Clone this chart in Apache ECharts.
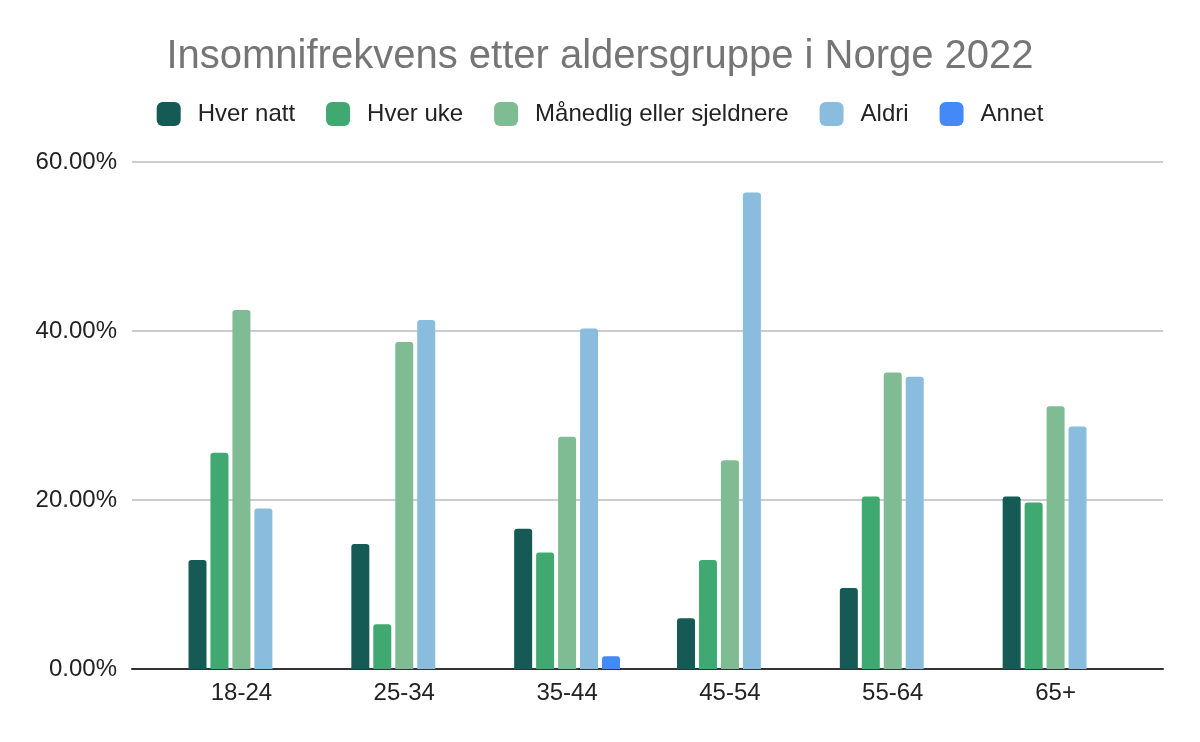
<!DOCTYPE html>
<html>
<head>
<meta charset="utf-8">
<script src="https://cdn.jsdelivr.net/npm/echarts@6/dist/echarts.min.js"></script>
<style>
html,body{margin:0;padding:0;background:#fff;}
#chart{width:1200px;height:742px;}
</style>
</head>
<body>
<div id="chart"></div>
<script>
const title = 'Insomnifrekvens etter aldersgruppe i Norge 2022';
const categories = ['18-24', '25-34', '35-44', '45-54', '55-64', '65+'];
const seriesNames = ['Hver natt', 'Hver uke', 'Månedlig eller sjeldnere', 'Aldri', 'Annet'];
const hverNatt = [12.9, 14.8, 16.6, 6.0, 9.6, 20.4];
const hverUke = [25.6, 5.3, 13.8, 12.9, 20.4, 19.7];
const maanedlig = [42.5, 38.7, 27.5, 24.7, 35.1, 31.1];
const aldri = [19.0, 41.3, 40.3, 56.4, 34.6, 28.7];
const annet = [null, null, 1.5, null, null, null];
const yTicks = [0, 20, 40, 60];
const colors = ['#155A54', '#3FA971', '#7FBC94', '#8ABCDD', '#4389F7'];

const seriesData = [hverNatt, hverUke, maanedlig, aldri, annet];
const font = '"Liberation Sans", Arial, sans-serif';

const chart = echarts.init(document.getElementById('chart'), null, {renderer: 'canvas'});
chart.setOption({
  backgroundColor: '#ffffff',
  animation: false,
  color: colors,
  title: {
    text: title,
    left: 'center',
    top: 32,
    textStyle: {fontFamily: font, fontSize: 40, fontWeight: 'normal', color: '#757575'}
  },
  legend: {
    data: seriesNames,
    top: 97,
    left: 'center',
    itemWidth: 24,
    itemHeight: 24,
    itemGap: 31,
    icon: 'roundRect',
    textStyle: {fontFamily: font, fontSize: 24, color: '#222', padding: [0, 0, 0, 12]}
  },
  grid: [
    {left: 132, right: 37, top: 162, bottom: 73},
    {left: 160, right: 63, top: 162, bottom: 73}
  ],
  xAxis: [
    {
      type: 'category', gridIndex: 0, data: categories,
      axisLine: {show: true, lineStyle: {color: '#333', width: 2}},
      axisTick: {show: false}, axisLabel: {show: false}, splitLine: {show: false}
    },
    {
      type: 'category', gridIndex: 1, data: categories,
      axisLine: {show: false}, axisTick: {show: false},
      axisLabel: {fontFamily: font, fontSize: 24, color: '#222', margin: 12}
    }
  ],
  yAxis: [
    {
      type: 'value', gridIndex: 0, min: yTicks[0], max: yTicks[yTicks.length - 1], interval: 20,
      axisLine: {show: false}, axisTick: {show: false},
      splitLine: {lineStyle: {color: '#cccccc', width: 2}},
      axisLabel: {fontFamily: font, fontSize: 24, color: '#222', margin: 15,
        formatter: v => v.toFixed(2) + '%'}
    },
    {
      type: 'value', gridIndex: 1, min: yTicks[0], max: yTicks[yTicks.length - 1], interval: 20,
      show: false, splitLine: {show: false}
    }
  ],
  series: seriesNames.map((name, i) => ({
    name: name,
    type: 'bar',
    xAxisIndex: 1,
    yAxisIndex: 1,
    data: seriesData[i],
    barWidth: 18,
    barGap: '22%',
    itemStyle: {color: colors[i], borderRadius: [3, 3, 0, 0]}
  }))
});
</script>
</body>
</html>
